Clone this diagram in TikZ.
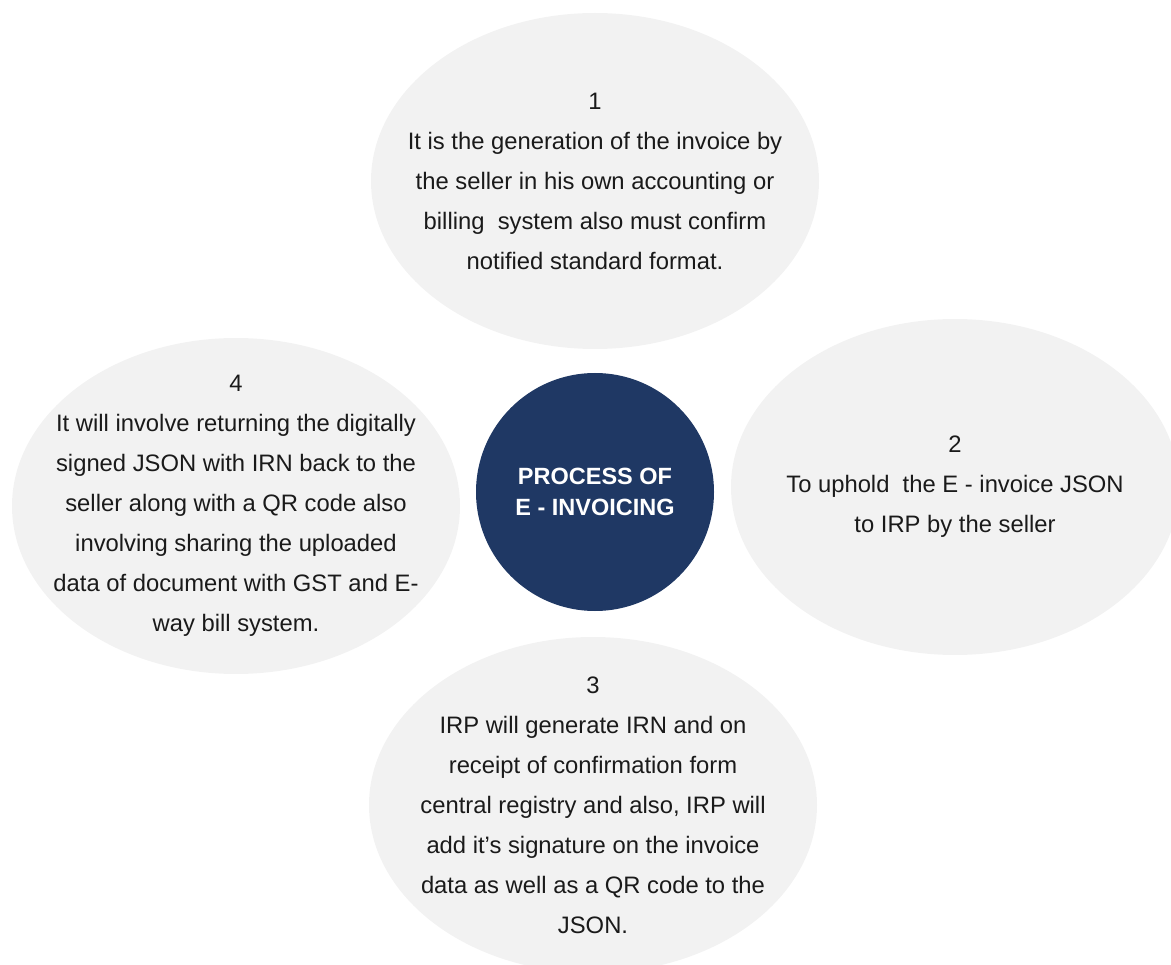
\documentclass[tikz,border=0pt]{standalone}
\usepackage{fontspec}
\setmainfont{Liberation Sans}
\usetikzlibrary{shapes.geometric}

\definecolor{petalgray}{HTML}{F2F2F2}
\definecolor{hubblue}{HTML}{1F3864}
\definecolor{inktext}{HTML}{1A1A1A}

\begin{document}
\begin{tikzpicture}[
  x=1pt, y=-1pt,
  % negative inner sep so the fixed size wins over the text box
  petal/.style={ellipse, fill=petalgray, minimum width=448pt,
                minimum height=336pt, inner sep=-90pt, align=center,
                text=inktext, font=\fontsize{23.8}{40}\selectfont},
  hub/.style={circle, fill=hubblue, minimum size=238pt, inner sep=0pt,
              align=center, text=white,
              font=\fontsize{23.5}{31}\selectfont\bfseries},
]

% ---- canvas ----
\useasboundingbox (0,0) rectangle (1171,965);
\clip (0,0) rectangle (1171,965);

% ---- steps ----
\node[petal] (step1) at (595,181) {1\\
  It is the generation of the invoice by\\
  the seller in his own accounting or\\
  billing~ system also must confirm\\
  notified standard format.};
\node[petal] (step2) at (955,487) {2\\
  To uphold~ the E - invoice JSON\\
  to IRP by the seller};
\node[petal] (step3) at (593,805) {3\\
  IRP will generate IRN and on\\
  receipt of confirmation form\\
  central registry and also, IRP will\\
  add it’s signature on the invoice\\
  data as well as a QR code to the\\
  JSON.};
\node[petal] (step4) at (236,506) {4\\
  It will involve returning the digitally\\
  signed JSON with IRN back to the\\
  seller along with a QR code also\\
  involving sharing the uploaded\\
  data of document with GST and E-\\
  way bill system.};

% ---- centre ----
\node[hub] (process) at (595,492) {PROCESS OF\\E - INVOICING};

\end{tikzpicture}
\end{document}
